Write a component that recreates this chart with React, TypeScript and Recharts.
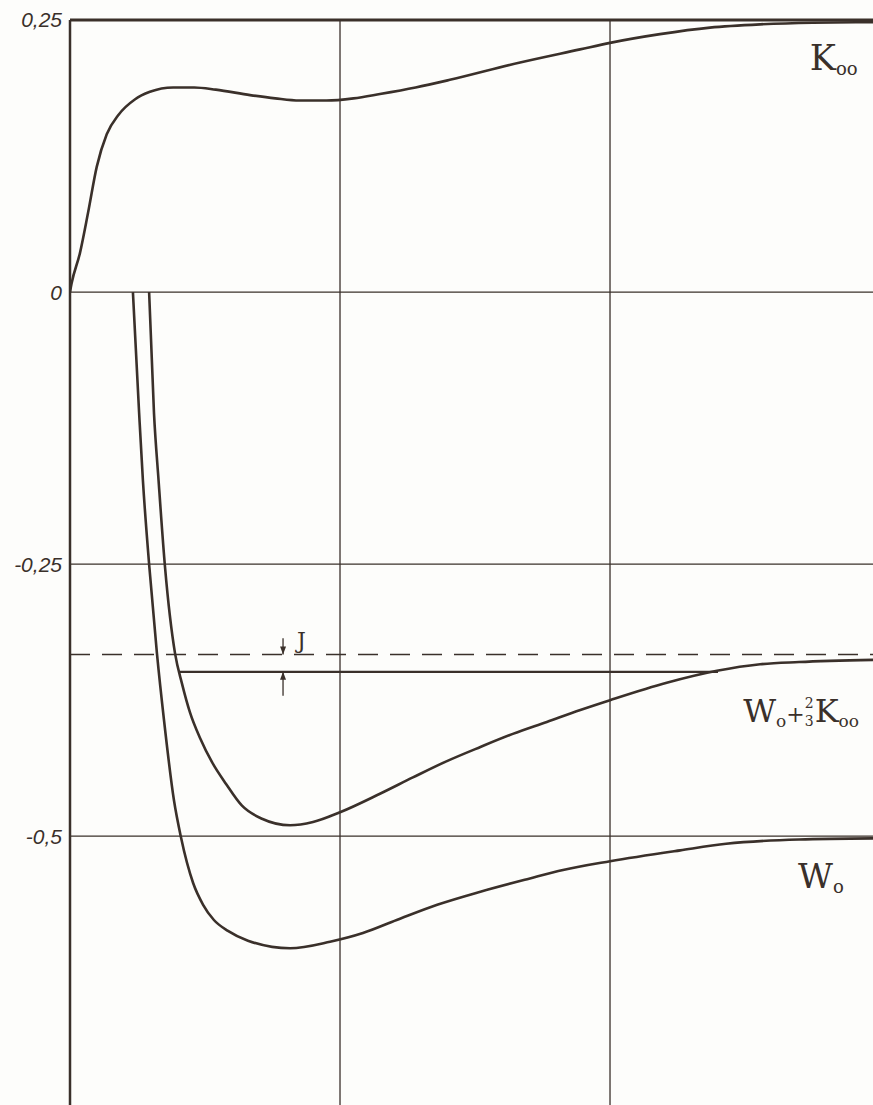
import React from "react";
import {
  LineChart,
  Line,
  XAxis,
  YAxis,
  ReferenceLine,
  ReferenceDot,
} from "recharts";

const INK = "#3a302a";
const SERIF = "'DejaVu Serif', 'Liberation Serif', serif";

// K00
const kX = [0, 0.006, 0.037, 0.067, 0.099, 0.136, 0.18, 0.24, 0.296, 0.382, 0.46, 0.54, 0.667, 0.76, 0.85, 0.95, 1.05, 1.148, 1.28, 1.407, 1.667, 1.889, 2.0, 2.185, 2.37, 2.556, 2.75, 2.974];
const kY = [0, 0.008, 0.036, 0.073, 0.115, 0.145, 0.163, 0.177, 0.184, 0.188, 0.188, 0.186, 0.181, 0.178, 0.176, 0.176, 0.178, 0.182, 0.188, 0.195, 0.211, 0.223, 0.229, 0.237, 0.243, 0.246, 0.2475, 0.248];

// W0
const wX = [0.233, 0.256, 0.27, 0.294, 0.322, 0.348, 0.385, 0.411, 0.456, 0.493, 0.533, 0.585, 0.659, 0.815, 0.963, 1.085, 1.21, 1.36, 1.52, 1.7, 1.826, 2.0, 2.26, 2.43, 2.7, 2.974];
const wY = [0, -0.111, -0.173, -0.253, -0.332, -0.393, -0.467, -0.501, -0.543, -0.563, -0.577, -0.587, -0.596, -0.603, -0.597, -0.589, -0.577, -0.563, -0.551, -0.539, -0.531, -0.523, -0.513, -0.507, -0.503, -0.502];

// W0 + 2/3 K00
const sX = [0.293, 0.311, 0.328, 0.352, 0.389, 0.415, 0.444, 0.482, 0.526, 0.578, 0.637, 0.711, 0.815, 0.9, 1.0, 1.148, 1.27, 1.396, 1.52, 1.64, 1.766, 1.89, 2.0, 2.21, 2.396, 2.556, 2.7, 2.974];
const sY = [0, -0.111, -0.173, -0.253, -0.332, -0.36, -0.386, -0.41, -0.432, -0.452, -0.472, -0.484, -0.49, -0.487, -0.478, -0.461, -0.446, -0.431, -0.418, -0.406, -0.395, -0.384, -0.375, -0.359, -0.348, -0.342, -0.34, -0.338];

const yTicks = [0.25, 0, -0.25, -0.5];
const yTickLabels = ["0,25", "0", "-0,25", "-0,5"];
const xGrid = [1, 2];

const J_LEVEL = -0.333; // dashed
const FLAT_LEVEL = -0.349; // solid
const FLAT_FROM = 0.407;
const FLAT_TO = 2.4;
const J_X = 0.789;

const toPts = (xs: number[], ys: number[]) => xs.map((x, i) => ({ x, y: ys[i] }));
const kData = toPts(kX, kY);
const wData = toPts(wX, wY);
const sData = toPts(sX, sY);

const Arrow = ({ cx, cy, up }: any) => {
  const d = up ? 8 : -8;
  return <path d={`M${cx - 3},${cy + d} L${cx + 3},${cy + d} L${cx},${cy} Z`} fill={INK} />;
};

const Sub = ({ children, size = 18 }: any) => (
  <tspan fontSize={size} dy={5}>
    {children}
  </tspan>
);

const KLabel = ({ cx, cy }: any) => (
  <text x={cx} y={cy} fontFamily={SERIF} fontSize={35} fill={INK}>
    K<Sub>oo</Sub>
  </text>
);

const WLabel = ({ cx, cy }: any) => (
  <text x={cx} y={cy} fontFamily={SERIF} fontSize={34} fill={INK}>
    W<Sub>o</Sub>
  </text>
);

const SumLabel = ({ cx, cy }: any) => (
  <text x={cx} y={cy} fontFamily={SERIF} fontSize={32} fill={INK}>
    W<tspan fontSize={17} dy={5}>o</tspan>
    <tspan fontSize={22} dy={-5}>+</tspan>
    <tspan fontSize={14} dy={-14}>2</tspan>
    <tspan fontSize={14} dx={-8.9} dy={18}>3</tspan>
    <tspan fontSize={32} dx={1} dy={-4}>K</tspan>
    <Sub size={17}>oo</Sub>
  </text>
);

const JLabel = ({ cx, cy }: any) => (
  <text x={cx} y={cy} fontFamily={SERIF} fontSize={22} fill={INK}>
    J
  </text>
);

export default function App() {
  return (
    <div style={{ position: "absolute", left: 0, top: 0, width: 873, height: 1105, background: "#fdfdfb" }}>
      <LineChart width={873} height={1105} margin={{ top: 20, right: 0, bottom: 0, left: 0 }}>
        <XAxis type="number" dataKey="x" domain={[0, 2.974]} allowDataOverflow hide />
        <YAxis
          type="number"
          domain={[-0.747, 0.25]}
          allowDataOverflow
          ticks={yTicks}
          interval={0}
          width={70}
          tickLine={false}
          tickFormatter={(v: number) => yTickLabels[yTicks.indexOf(v)] ?? ""}
          tick={{ fontSize: 21, fontStyle: "italic", fontFamily: "'Liberation Sans', Arial, sans-serif", fill: INK }}
          axisLine={{ stroke: INK, strokeWidth: 2.5 }}
        />
        {yTicks.slice(1).map((v) => (
          <ReferenceLine key={v} y={v} stroke={INK} strokeWidth={1.3} />
        ))}
        {xGrid.map((v) => (
          <ReferenceLine key={v} x={v} stroke={INK} strokeWidth={1.3} />
        ))}
        <ReferenceLine y={0.25} stroke={INK} strokeWidth={3} />
        <ReferenceLine y={J_LEVEL} stroke={INK} strokeWidth={1.6} strokeDasharray="20 12" />
        <ReferenceLine
          segment={[
            { x: FLAT_FROM, y: FLAT_LEVEL },
            { x: FLAT_TO, y: FLAT_LEVEL },
          ]}
          stroke={INK}
          strokeWidth={2.4}
        />
        <ReferenceLine
          segment={[
            { x: J_X, y: -0.318 },
            { x: J_X, y: J_LEVEL },
          ]}
          stroke={INK}
          strokeWidth={1.3}
        />
        <ReferenceLine
          segment={[
            { x: J_X, y: FLAT_LEVEL },
            { x: J_X, y: -0.371 },
          ]}
          stroke={INK}
          strokeWidth={1.3}
        />
        <ReferenceDot x={J_X} y={J_LEVEL} shape={(p: any) => <Arrow {...p} up={false} />} />
        <ReferenceDot x={J_X} y={FLAT_LEVEL} shape={(p: any) => <Arrow {...p} up />} />
        <ReferenceDot x={0.841} y={-0.327} shape={(p: any) => <JLabel {...p} />} />
        <ReferenceDot x={2.74} y={0.204} shape={(p: any) => <KLabel {...p} />} />
        <ReferenceDot x={2.493} y={-0.395} shape={(p: any) => <SumLabel {...p} />} />
        <ReferenceDot x={2.696} y={-0.548} shape={(p: any) => <WLabel {...p} />} />
        <Line data={kData} dataKey="y" type="monotone" stroke={INK} strokeWidth={2.6} dot={false} isAnimationActive={false} />
        <Line data={wData} dataKey="y" type="monotone" stroke={INK} strokeWidth={2.6} dot={false} isAnimationActive={false} />
        <Line data={sData} dataKey="y" type="monotone" stroke={INK} strokeWidth={2.6} dot={false} isAnimationActive={false} />
      </LineChart>
    </div>
  );
}
